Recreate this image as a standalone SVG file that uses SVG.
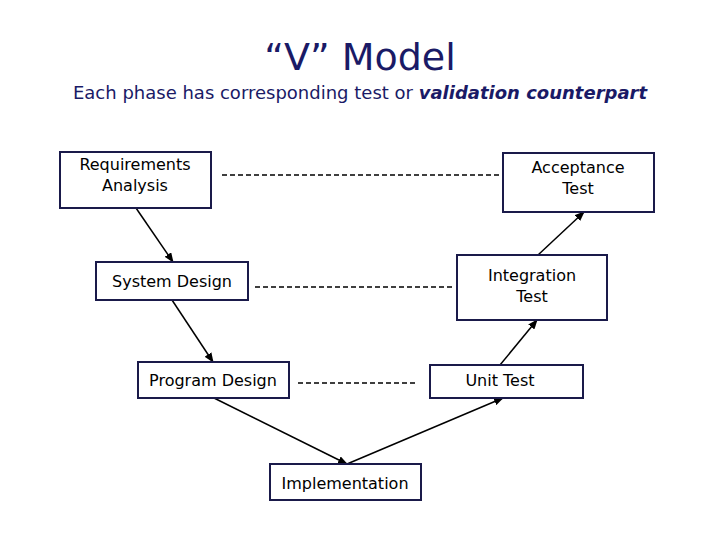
<svg xmlns="http://www.w3.org/2000/svg" width="720" height="540" viewBox="0 0 720 540">
<style>
.b{fill:#fff;stroke:#1a1a4a;stroke-width:2}
.t{font-family:"Comic Sans MS","DejaVu Sans",sans-serif;font-size:16px;fill:#000;text-anchor:middle}
.d{stroke:#000;stroke-width:1.3;stroke-dasharray:5,3;fill:none}
.a{stroke:#000;stroke-width:1.5;fill:none;marker-end:url(#ah)}
.h{font-family:"Comic Sans MS","DejaVu Sans",sans-serif;fill:#1a1a66;text-anchor:middle}
</style>
<defs><marker id="ah" markerWidth="10" markerHeight="8" refX="9" refY="4" orient="auto" markerUnits="userSpaceOnUse"><path d="M0,0L10,4L0,8z" fill="#000"/></marker></defs>
<rect width="720" height="540" fill="#fff"/>
<text class="h" x="360" y="70" font-size="38">“V” Model</text>
<text class="h" x="360" y="99" font-size="18">Each phase has corresponding test or <tspan font-style="italic" font-weight="bold">validation counterpart</tspan></text>
<g id="connectors">
<path class="d" d="M222,175H500M255,287H452M298,383H415"/>
<path class="a" d="M136,208L173,262"/>
<path class="a" d="M172,300L213,362"/>
<path class="a" d="M214,398L347,464"/>
<path class="a" d="M347,464L503,398"/>
<path class="a" d="M500,365L537,320"/>
<path class="a" d="M538,255L584,212"/>
</g>
<g id="req"><rect class="b" x="60" y="152" width="151" height="56"/><text class="t" x="135" y="170">Requirements</text><text class="t" x="135" y="191">Analysis</text></g>
<g id="acc"><rect class="b" x="503" y="153" width="151" height="59"/><text class="t" x="578" y="173">Acceptance</text><text class="t" x="578" y="194">Test</text></g>
<g id="sys"><rect class="b" x="96" y="262" width="152" height="38"/><text class="t" x="172" y="287">System Design</text></g>
<g id="int"><rect class="b" x="457" y="255" width="150" height="65"/><text class="t" x="532" y="281">Integration</text><text class="t" x="532" y="302">Test</text></g>
<g id="prog"><rect class="b" x="138" y="362" width="151" height="36"/><text class="t" x="213" y="386">Program Design</text></g>
<g id="unit"><rect class="b" x="430" y="365" width="153" height="33"/><text class="t" x="500" y="386">Unit Test</text></g>
<g id="impl"><rect class="b" x="270" y="464" width="151" height="36"/><text class="t" x="345" y="489">Implementation</text></g>
</svg>
